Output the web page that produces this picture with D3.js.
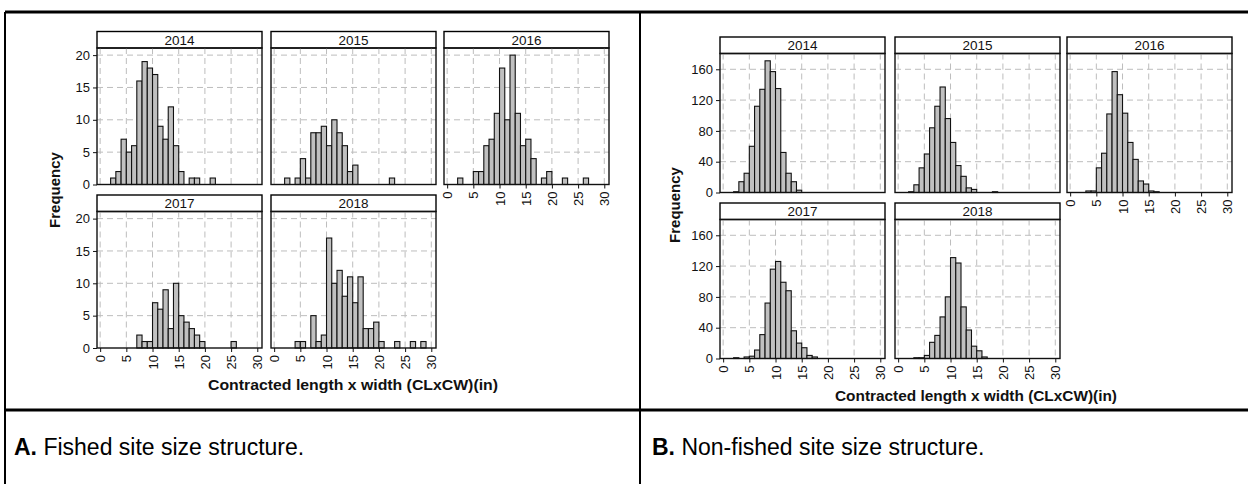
<!DOCTYPE html>
<html><head><meta charset="utf-8">
<script src="https://cdn.jsdelivr.net/npm/d3@7"></script>
<style>body{margin:0;background:#fff}svg{display:block}</style>
</head><body>
<svg id="c" width="1248" height="484"></svg>
<script>
// ---------- data ----------
const years = ["2014", "2015", "2016", "2017", "2018"];
const xTickValues = [0, 5, 10, 15, 20, 25, 30];
const binStart = 2;   // left edge of first bin
const binWidth = 1;
// Panel A: fished site (frequency per bin, bins start at binStart)
const fished2014 = [1, 2, 7, 5, 6, 16, 19, 18, 17, 9, 7, 12, 6, 2, 0, 1, 1, 0, 0, 1];
const fished2015 = [1, 0, 1, 4, 1, 8, 8, 9, 6, 10, 8, 6, 2, 3, 0, 0, 0, 0, 0, 0, 1];
const fished2016 = [1, 0, 0, 2, 2, 6, 7, 11, 18, 10, 20, 11, 6, 7, 4, 0, 1, 2, 0, 0, 1, 0, 0, 0, 1];
const fished2017 = [0, 0, 0, 0, 0, 2, 1, 1, 7, 6, 9, 3, 10, 5, 4, 3, 2, 1, 0, 0, 0, 0, 0, 1];
const fished2018 = [0, 0, 1, 1, 0, 5, 1, 2, 17, 10, 12, 8, 11, 7, 11, 3, 3, 4, 1, 0, 0, 1, 0, 0, 1, 0, 1];
const fishedYTicks = [0, 5, 10, 15, 20];
// Panel B: non-fished site
const nonFished2014 = [1, 14, 25, 60, 112, 134, 171, 157, 135, 52, 25, 14, 3];
const nonFished2015 = [1, 10, 32, 50, 84, 112, 137, 96, 65, 35, 21, 6, 4, 0, 0, 0, 1];
const nonFished2016 = [0, 2, 2, 32, 51, 102, 157, 127, 103, 65, 43, 15, 11, 2, 1];
const nonFished2017 = [1, 0, 2, 3, 11, 31, 72, 116, 126, 99, 88, 36, 20, 14, 4, 2];
const nonFished2018 = [0, 1, 1, 4, 21, 30, 54, 80, 131, 124, 67, 37, 16, 10, 2];
const nonFishedYTicks = [0, 40, 80, 120, 160];
const xAxisTitle = "Contracted length x width (CLxCW)(in)";
const yAxisTitle = "Frequency";
const captions = [["A.", " Fished site size structure."], ["B.", " Non-fished site size structure."]];

// ---------- drawing ----------
const FONT = "'Liberation Sans', Arial, Helvetica, sans-serif";
const svg = d3.select("#c").style("font-family", FONT);

const panels = [
  { series: [fished2014, fished2015, fished2016, fished2017, fished2018], yTicks: fishedYTicks, yMax: 21.1,
    cols: [97, 271, 444], rows: [31.5, 195], hH: 16.5, pH: 136.5, fw: 165, freqX: 60, freqY: 190, xlabY: 390, xlabW: 290 },
  { series: [nonFished2014, nonFished2015, nonFished2016, nonFished2017, nonFished2018], yTicks: nonFishedYTicks, yMax: 180.5,
    cols: [720, 895, 1067], rows: [37, 203], hH: 16.5, pH: 139, fw: 165, freqX: 680, freqY: 205, xlabY: 401, xlabW: 282 }
];

panels.forEach(p => {
  const x = d3.scaleLinear().domain([-0.6, 30.9]).range([0, p.fw]);
  const y = d3.scaleLinear().domain([0, p.yMax]).range([p.pH, 0]);
  p.series.forEach((vals, i) => {
    const row = Math.floor(i / 3), col = i % 3;
    const g = svg.append("g").attr("transform", `translate(${p.cols[col]},${p.rows[row]})`);
    // header strip
    g.append("rect").attr("x", 0).attr("y", 0).attr("width", p.fw).attr("height", p.hH)
      .attr("fill", "#fff").attr("stroke", "#000").attr("stroke-width", 1.4);
    g.append("text").attr("x", p.fw / 2).attr("y", p.hH / 2 + 5).attr("text-anchor", "middle")
      .attr("font-size", 13.5).attr("fill", "#111").text(years[i]);
    const pg = g.append("g").attr("transform", `translate(0,${p.hH})`);
    // grid
    pg.selectAll(".vg").data(xTickValues).enter().append("line")
      .attr("x1", d => x(d)).attr("x2", d => x(d)).attr("y1", 0).attr("y2", p.pH)
      .attr("stroke", "#bdbdbd").attr("stroke-width", 1).attr("stroke-dasharray", "6,4");
    pg.selectAll(".hg").data(p.yTicks.filter(d => d > 0)).enter().append("line")
      .attr("x1", 0).attr("x2", p.fw).attr("y1", d => y(d)).attr("y2", d => y(d))
      .attr("stroke", "#bdbdbd").attr("stroke-width", 1).attr("stroke-dasharray", "6,4");
    // bars
    const bins = vals.map((v, k) => ({ x0: binStart + k * binWidth, x1: binStart + (k + 1) * binWidth, v })).filter(b => b.v > 0);
    pg.selectAll(".bar").data(bins).enter().append("rect")
      .attr("x", d => x(d.x0)).attr("width", d => x(d.x1) - x(d.x0))
      .attr("y", d => y(d.v)).attr("height", d => p.pH - y(d.v))
      .attr("fill", "#c0c0c0").attr("stroke", "#111").attr("stroke-width", 1.1);
    // frame
    pg.append("rect").attr("x", 0).attr("y", 0).attr("width", p.fw).attr("height", p.pH)
      .attr("fill", "none").attr("stroke", "#111").attr("stroke-width", 1.4);
    // y axis
    if (col === 0) {
      const ya = pg.append("g").call(d3.axisLeft(y).tickValues(p.yTicks).tickSize(4).tickPadding(3));
      ya.select(".domain").remove();
      ya.selectAll("line").attr("stroke", "#111");
      ya.selectAll("text").attr("font-size", 13).attr("font-family", FONT).attr("fill", "#111");
    }
    // x axis when no facet below
    if (i + 3 >= p.series.length) {
      const xa = pg.append("g").attr("transform", `translate(0,${p.pH})`)
        .call(d3.axisBottom(x).tickValues(xTickValues).tickSize(4));
      xa.select(".domain").remove();
      xa.selectAll("line").attr("stroke", "#111");
      xa.selectAll("text").attr("font-size", 13).attr("font-family", FONT).attr("fill", "#111")
        .attr("transform", "rotate(-90)").attr("x", -7).attr("y", 0).attr("dy", "0.35em")
        .style("text-anchor", "end");
    }
  });
  // axis titles
  const cx = (p.cols[0] + p.cols[2] + p.fw) / 2;
  svg.append("text").attr("x", cx).attr("y", p.xlabY).attr("text-anchor", "middle")
    .attr("font-size", 14).attr("font-weight", "bold").attr("fill", "#111")
    .attr("textLength", p.xlabW).attr("lengthAdjust", "spacingAndGlyphs").text(xAxisTitle);
  svg.append("text").attr("transform", `translate(${p.freqX},${p.freqY}) rotate(-90)`).attr("text-anchor", "middle")
    .attr("font-size", 15).attr("font-weight", "bold").attr("fill", "#111").text(yAxisTitle);
});

// ---------- table frame ----------
const lines = [
  [5, 12, 1248, 12, 3], [5, 12, 5, 484, 2], [640, 12, 640, 484, 2], [5, 410, 1248, 410, 3]
];
svg.selectAll(".tl").data(lines).enter().append("line")
  .attr("x1", d => d[0]).attr("y1", d => d[1]).attr("x2", d => d[2]).attr("y2", d => d[3])
  .attr("stroke", "#000").attr("stroke-width", d => d[4]);

// captions
captions.forEach((c, i) => {
  const t = svg.append("text").attr("x", i === 0 ? 14 : 652).attr("y", 455).attr("font-size", 23).attr("fill", "#000");
  t.append("tspan").attr("font-weight", "bold").text(c[0]);
  t.append("tspan").text(c[1]);
});
</script>
</body></html>
